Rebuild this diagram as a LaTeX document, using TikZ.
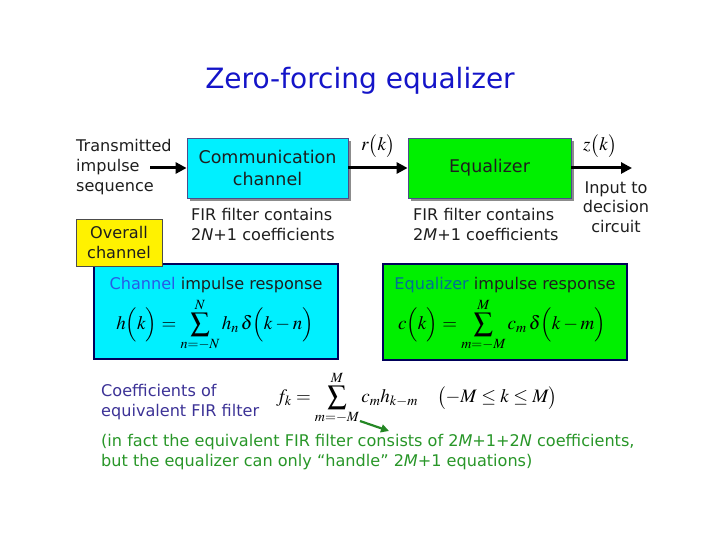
\documentclass[tikz,border=0pt]{standalone}
\usepackage{mathptmx}
\usepackage{fontspec}
\setmainfont{DejaVu Sans}
\usetikzlibrary{arrows.meta,shadows}
\definecolor{titleblue}{RGB}{20,20,200}
\definecolor{chcyan}{RGB}{0,240,255}
\definecolor{eqgreen}{RGB}{0,240,0}
\definecolor{navyb}{RGB}{0,0,90}
\definecolor{coefcol}{RGB}{60,50,150}
\definecolor{notegreen}{RGB}{40,150,40}
\definecolor{chanblue}{RGB}{40,90,230}
\definecolor{eqteal}{RGB}{0,110,150}
\definecolor{txt}{RGB}{30,30,30}
\tikzset{
  txtsm/.style={font=\fontsize{16.1}{19.6}\selectfont, text=txt, inner sep=0pt},
  blockbox/.style={draw=navyb!70, line width=0.8pt, minimum width=#1, minimum height=60pt, inner sep=0pt,
     font=\fontsize{17.5}{21.5}\selectfont, text=txt, align=center,
     drop shadow={shadow xshift=3pt, shadow yshift=-3pt, fill=black!45, opacity=1}},
  respbox/.style={draw=navyb, line width=1.2pt, inner sep=0pt},
  sigarrow/.style={line width=3pt, -{Triangle[length=11pt,width=11pt]}},
  mathlbl/.style={inner sep=0pt, font=\fontsize{19}{22}\selectfont}
}
\begin{document}
\begin{tikzpicture}[x=1pt,y=-1pt]
\useasboundingbox (0,0) rectangle (720,540);
% title
\node[anchor=base, text=titleblue, font=\fontsize{28}{32}\selectfont, inner sep=0pt] (title) at (360,89) {Zero-forcing equalizer};
% blocks
\node[blockbox=161pt, fill=chcyan] (comm) at (267.5,168) {Communication\\channel};
\node[blockbox=163pt, fill=eqgreen] (eq) at (489.5,168) {Equalizer};
% input text
\node[txtsm, anchor=west, align=left] (tx) at (76,167) {Transmitted\\impulse\\sequence};
\coordinate (inS) at (150,168);
\coordinate (outE) at (632,168);
\draw[sigarrow] (inS) -- (comm.west);
\draw[sigarrow] (comm.east) -- (eq.west);
\draw[sigarrow] (eq.east) -- (outE);
\node[mathlbl] (rk) at (378,146) {$r\bigl(k\bigr)$};
\node[mathlbl] (zk) at (600,146) {$z\bigl(k\bigr)$};
\node[txtsm, align=center] (inp) at (616,207) {Input to\\decision\\circuit};
% FIR notes
\node[txtsm, anchor=north west, align=left] (fir1) at (191,208) {FIR filter contains\\2\textit{N}+1 coefficients};
\node[txtsm, anchor=north west, align=left] (fir2) at (413,208) {FIR filter contains\\2\textit{M}+1 coefficients};
% response boxes
\node[respbox, fill=chcyan, minimum width=244pt, minimum height=95pt] (chresp) at (216,311.5) {};
\node[respbox, fill=eqgreen, minimum width=244pt, minimum height=96pt] (eqresp) at (505,312) {};
\node[draw=black!70, line width=0.8pt, fill=yellow, minimum width=86pt, minimum height=47pt, inner sep=0pt,
      txtsm, align=center] (overall) at (119,242.5) {Overall\\channel};
\node[txtsm] (chtitle) at (216,285) {\textcolor{chanblue}{Channel} impulse response};
\node[txtsm] (eqtitle) at (505,285) {\textcolor{eqteal}{Equalizer} impulse response};
\node[mathlbl] (hform) at (215,325) {$\displaystyle h\Bigl(k\Bigr)=\sum_{n=-N}^{N} h_n\,\delta\Bigl(k-n\Bigr)$};
\node[mathlbl] (cform) at (502,325) {$\displaystyle c\Bigl(k\Bigr)=\sum_{m=-M}^{M} c_m\,\delta\Bigl(k-m\Bigr)$};
% equivalent filter
\node[txtsm, anchor=west, align=left, text=coefcol] (coef) at (101,402) {Coefficients of\\equivalent FIR filter};
\node[mathlbl, anchor=west] (fform) at (276,398) {$\displaystyle f_k=\sum_{m=-M}^{M} c_m h_{k-m}\quad\bigl(-M\le k\le M\bigr)$};
\coordinate (gA) at (360,421);
\coordinate (gB) at (389,431);
\draw[notegreen!90!black, line width=2.2pt, -{Triangle[length=8pt,width=8pt]}] (gA) -- (gB);
\node[txtsm, anchor=north west, align=left, text=notegreen] (note) at (101,434) {(in fact the equivalent FIR filter consists of 2\textit{M}+1+2\textit{N} coefficients,\\but the equalizer can only “handle” 2\textit{M}+1 equations)};
\end{tikzpicture}
\end{document}
